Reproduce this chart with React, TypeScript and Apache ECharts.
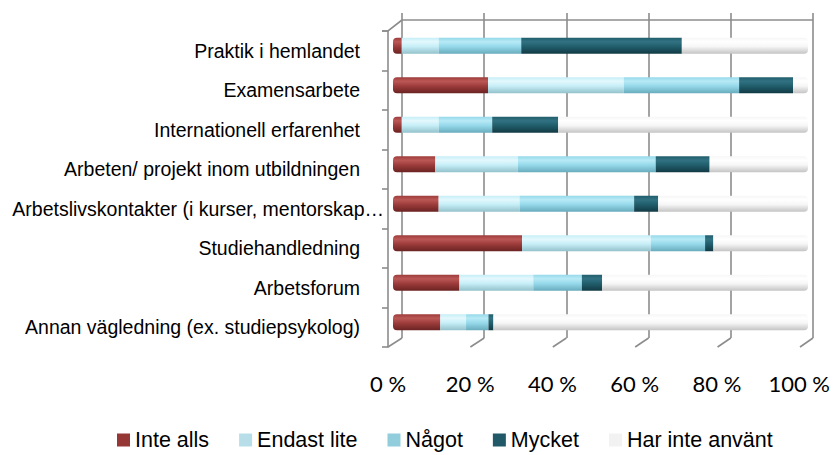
import React, { useEffect, useRef } from "react";
import * as echarts from "echarts";

const categories = [
  "Praktik i hemlandet",
  "Examensarbete",
  "Internationell erfarenhet",
  "Arbeten/ projekt inom utbildningen",
  "Arbetslivskontakter (i kurser, mentorskap…",
  "Studiehandledning",
  "Arbetsforum",
  "Annan vägledning (ex. studiepsykolog)",
];
const seriesNames = ["Inte alls", "Endast lite", "Något", "Mycket", "Har inte använt"];
const inteAlls = [2.1, 22.9, 2.1, 10.2, 11, 31.1, 16, 11.4];
const endastLite = [8.9, 32.7, 8.9, 19.9, 19.5, 31, 17.8, 6.2];
const nagot = [19.9, 27.8, 12.9, 33.2, 27.6, 13.1, 11.7, 5.4];
const mycket = [38.7, 13, 15.9, 13, 5.8, 2, 4.9, 1.2];
const harInte = [30.4, 3.6, 60.2, 23.7, 36.1, 22.8, 49.6, 75.8];
const xTicks = [0, 20, 40, 60, 80, 100];

const W = 833;
const H = 455;
// layout of the pseudo-3D frame
const FRONT = { left: 388, right: 800, top: 31, bottom: 347 };
const BACK = { left: 402, right: 813, top: 13, bottom: 338 };
const BAR = { left: 393, right: 808, top: 26, bottom: 342 };

const legendColors = ["#953735", "#B7DEE8", "#92CDDC", "#215968", "#F2F2F2"];
const shades: [string, string, string][] = [
  ["#bb5856", "#9c3c3b", "#6a2322"],
  ["#e3f8fd", "#c6eef7", "#93c1cb"],
  ["#b8eaf6", "#95d9ea", "#68abbc"],
  ["#317282", "#215e6c", "#113a44"],
  ["#ffffff", "#f6f6f6", "#c4c4c4"],
];

function cyl(s: [string, string, string]) {
  return new echarts.graphic.LinearGradient(0, 0, 0, 1, [
    { offset: 0, color: s[1] },
    { offset: 0.25, color: s[0] },
    { offset: 0.55, color: s[1] },
    { offset: 1, color: s[2] },
  ]);
}

export default function App() {
  const ref = useRef<HTMLDivElement>(null);
  useEffect(() => {
    document.body.style.margin = "0";
    const chart = echarts.init(ref.current!, null, { renderer: "svg" });
    const data = [inteAlls, endastLite, nagot, mycket, harInte];
    const lineStyle = { stroke: "#8c8c8c", lineWidth: 1.6 };
    const graphics: any[] = [
      {
        type: "line",
        shape: { x1: BACK.left, y1: 20, x2: BACK.right, y2: 20 },
        style: lineStyle,
        z: 1,
      },
      {
        type: "polyline",
        shape: { points: [[FRONT.left - 6, FRONT.top], [FRONT.left, FRONT.top], [BACK.left, 20]] },
        style: { ...lineStyle, fill: null },
        z: 1,
      },
    ];
    const step = (FRONT.right - FRONT.left) / (xTicks.length - 1);
    const bstep = (BACK.right - BACK.left) / (xTicks.length - 1);
    xTicks.forEach((_, i) => {
      graphics.push({
        type: "line",
        shape: {
          x1: FRONT.left + i * step,
          y1: FRONT.bottom,
          x2: BACK.left + i * bstep,
          y2: BACK.bottom,
        },
        style: lineStyle,
        z: 1,
      });
    });

    chart.setOption({
      animation: false,
      grid: [
        { left: FRONT.left, right: W - FRONT.right, top: FRONT.top, bottom: H - FRONT.bottom },
        { left: BACK.left, right: W - BACK.right, top: BACK.top, bottom: H - BACK.bottom },
        { left: BAR.left, right: W - BAR.right, top: BAR.top, bottom: H - BAR.bottom },
      ],
      xAxis: [
        {
          gridIndex: 0,
          type: "value",
          min: 0,
          max: 100,
          interval: 20,
          axisLine: { show: false },
          axisTick: { show: false },
          splitLine: { show: false },
          axisLabel: {
            formatter: (v: number) => `${v} %`,
            fontFamily: "Lato",
            fontSize: 22,
            color: "#000",
            margin: 25,
          },
        },
        {
          gridIndex: 1,
          type: "value",
          min: 0,
          max: 100,
          interval: 20,
          axisLine: { show: false },
          axisTick: { show: false },
          axisLabel: { show: false },
          splitLine: { show: true, lineStyle: { color: "#8c8c8c", width: 1.6 } },
        },
        {
          gridIndex: 2,
          type: "value",
          min: 0,
          max: 100,
          show: false,
        },
      ],
      yAxis: [
        {
          gridIndex: 0,
          type: "category",
          data: categories,
          inverse: true,
          axisLine: { show: true, lineStyle: { color: "#8c8c8c", width: 1.6 } },
          axisTick: { show: true, length: 6, lineStyle: { color: "#8c8c8c", width: 1.6 } },
          axisLabel: {
            fontFamily: "Liberation Sans, Arial, sans-serif",
            fontSize: 19.5,
            color: "#000",
            margin: 28,
            formatter: (v: string) => (v.endsWith("…") ? `{s|${v}}` : v),
            rich: {
              s: {
                fontFamily: "Liberation Sans, Arial, sans-serif",
                fontSize: 19.5,
                color: "#000",
                padding: [0, -24, 0, 0],
              },
            },
          },
        },
        {
          gridIndex: 1,
          type: "category",
          data: categories,
          inverse: true,
          show: false,
        },
        {
          gridIndex: 2,
          type: "category",
          data: categories,
          inverse: true,
          show: false,
        },
      ],
      legend: {
        left: 112,
        top: 424,
        itemWidth: 13,
        itemHeight: 13,
        itemGap: 30,
        icon: "rect",
        textStyle: {
          fontFamily: "Liberation Sans, Arial, sans-serif",
          fontSize: 21.5,
          color: "#000",
        },
        data: seriesNames.map((n, i) => ({ name: n, itemStyle: { color: legendColors[i] } })),
      },
      graphic: graphics,
      series: seriesNames.map((name, i) => ({
        name,
        type: "bar",
        stack: "total",
        xAxisIndex: 2,
        yAxisIndex: 2,
        barWidth: 16,
        data: data[i],
        itemStyle: {
          color: cyl(shades[i]),
          borderRadius: i === 0 ? [4, 0, 0, 4] : i === 4 ? [0, 4, 4, 0] : 0,
        },
        z: 3,
      })),
    });
    return () => chart.dispose();
  }, []);
  return (
    <div
      ref={ref}
      style={{ position: "fixed", left: 0, top: 0, width: W, height: H, background: "#fff" }}
    />
  );
}
